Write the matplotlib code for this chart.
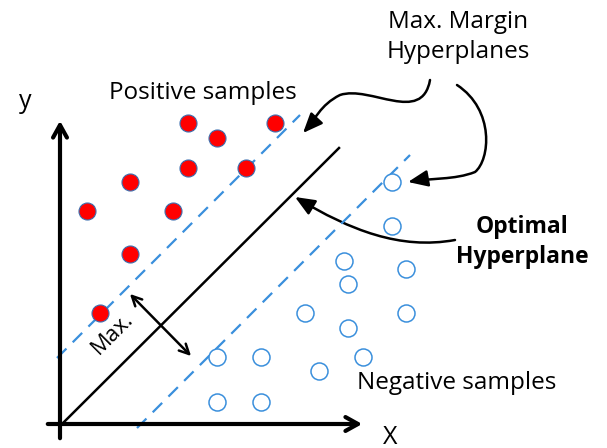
import matplotlib.pyplot as plt
from matplotlib.patches import FancyArrowPatch
from matplotlib.path import Path

# sample positions (picture coordinates, y grows downward)
pos_x = [188, 275, 217, 188, 246, 130, 87, 173, 130, 100]
pos_y = [123, 123, 138, 168, 168, 182, 211, 211, 254, 313]
neg_x = [392, 392, 344, 406, 348, 305, 406, 348, 217, 261, 363, 319, 217, 261]
neg_y = [182, 226, 261, 269, 284, 313, 313, 328, 357, 357, 357, 371, 402, 402]

# hyperplanes: (x0, y0, x1, y1)
optimal = (63, 423, 339, 148)
margin_up = (57, 358, 300, 115)
margin_lo = (137, 428, 410, 155)

blue = '#3a8fdc'
plt.rcParams['font.family'] = ['Open Sans', 'DejaVu Sans']

fig = plt.figure(figsize=(6.07, 4.48), dpi=100)
ax = fig.add_axes([0, 0, 1, 1])
ax.set_xlim(0, 607)
ax.set_ylim(448, 0)
ax.axis('off')

# axes with arrows
ax.annotate('', xy=(365, 424), xytext=(45, 424),
            arrowprops=dict(arrowstyle='->,head_length=0.9,head_width=0.5', lw=3, color='black'))
ax.annotate('', xy=(60, 118), xytext=(60, 441),
            arrowprops=dict(arrowstyle='->,head_length=0.9,head_width=0.5', lw=3, color='black'))

# hyperplanes
ax.plot([optimal[0], optimal[2]], [optimal[1], optimal[3]], color='black', lw=1.8)
for m in (margin_up, margin_lo):
    ax.plot([m[0], m[2]], [m[1], m[3]], color=blue, lw=1.6, dashes=(6, 4))

# samples
ax.scatter(pos_x, pos_y, s=150, color='#ff0000', edgecolors='#3a6fb0', linewidths=0.8, zorder=3)
ax.scatter(neg_x, neg_y, s=150, facecolors='white', edgecolors=blue, linewidths=1.1, zorder=3)

# max margin double arrow
ax.annotate('', xy=(128, 292), xytext=(193, 358),
            arrowprops=dict(arrowstyle='<->,head_length=0.7,head_width=0.35', lw=1.8, color='black'))
ax.text(113, 334, 'Max.', fontsize=16, rotation=45, ha='center', va='center')

# curved pointer arrows
curves = [
    [(430, 80), (422, 125), (370, 85), (340, 95), (320, 105), (315, 120), (303, 133)],
    [(457, 85), (495, 110), (490, 160), (475, 172), (455, 180), (430, 178), (408, 182)],
    [(455, 240), (400, 250), (350, 230), (295, 197)],
]
for pts in curves:
    codes = [Path.MOVETO] + [Path.CURVE4] * (len(pts) - 1)
    arr = FancyArrowPatch(path=Path(pts, codes),
                          arrowstyle='-|>,head_length=12,head_width=5',
                          lw=1.8, color='black', mutation_scale=1)
    ax.add_patch(arr)

# labels
ax.text(25, 102, 'y', fontsize=18, ha='center', va='center')
ax.text(390, 437, 'X', fontsize=18, ha='center', va='center')
ax.text(203, 93, 'Positive samples', fontsize=17.5, ha='center', va='center')
ax.text(457, 383, 'Negative samples', fontsize=17.5, ha='center', va='center')
ax.text(458, 37, 'Max. Margin\nHyperplanes', fontsize=17.5, ha='center', va='center',
        linespacing=1.3)
ax.text(522, 242, 'Optimal\nHyperplane', fontsize=16.5, ha='center', va='center',
        fontweight='bold', linespacing=1.35)

fig.savefig('out.png', dpi=100)
